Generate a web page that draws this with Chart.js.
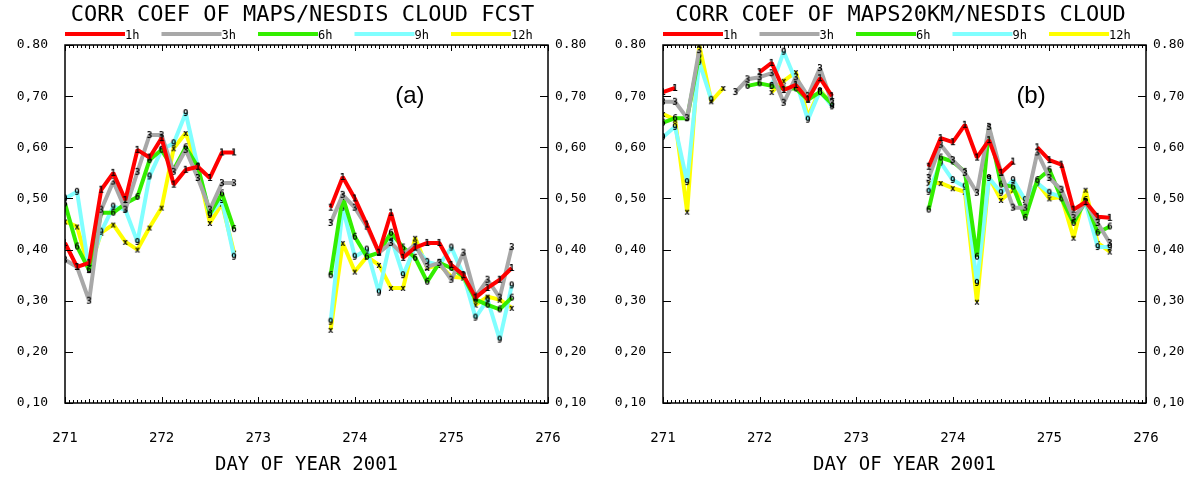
<!DOCTYPE html>
<html>
<head>
<meta charset="utf-8">
<script src="https://cdn.jsdelivr.net/npm/chart.js@4.4.1/dist/chart.umd.min.js"></script>
<style>
  html, body { margin: 0; padding: 0; background: #fff; }
  #wrap { position: relative; width: 1197px; height: 477px; }
  .panel { position: absolute; top: 0; width: 598px; height: 477px; }
</style>
</head>
<body>
<div id="wrap">
  <div class="panel" style="left:0"><canvas id="chartA" width="598" height="477"></canvas></div>
  <div class="panel" style="left:598px"><canvas id="chartB" width="598" height="477"></canvas></div>
</div>
<script>
// series
const seriesNames = ['1h', '3h', '6h', '9h', '12h'];
const seriesColors = ['#ff0000', '#a8a8a8', '#33ee00', '#80ffff', '#ffff00'];
const seriesGlyphs = ['1', '3', '6', '9', 'x'];

// axis labels
const yTickLabels = ['0,10', '0,20', '0,30', '0,40', '0,50', '0,60', '0,70', '0.80'];
const xTickLabels = ['271', '272', '273', '274', '275', '276'];
const titleA = 'CORR COEF OF MAPS/NESDIS CLOUD FCST';
const titleB = 'CORR COEF OF MAPS20KM/NESDIS CLOUD';
const xTitle = 'DAY OF YEAR 2001';

// day of year for each sample (273.25 = no data, breaks the lines)
const days = [271, 271.125, 271.25, 271.375, 271.5, 271.625, 271.75, 271.875,
  272, 272.125, 272.25, 272.375, 272.5, 272.625, 272.75,
  273.25,
  273.75, 273.875, 274, 274.125, 274.25, 274.375, 274.5, 274.625,
  274.75, 274.875, 275, 275.125, 275.25, 275.375, 275.5, 275.625];

// panel (a)
const a1h = [0.413, 0.366, 0.374, 0.517, 0.55, 0.497, 0.595, 0.58, 0.618, 0.527, 0.556, 0.562, 0.54, 0.59, 0.59,
  null,
  0.482, 0.542, 0.50, 0.449, 0.394, 0.472, 0.384, 0.404, 0.413, 0.413, 0.37, 0.35, 0.306, 0.325, 0.341, 0.364];
const a3h = [0.38, 0.366, 0.30, 0.478, 0.533, 0.478, 0.552, 0.624, 0.624, 0.552, 0.595, 0.54, 0.478, 0.53, 0.53,
  null,
  0.452, 0.507, 0.482, 0.445, 0.394, 0.413, 0.39, 0.41, 0.366, 0.374, 0.341, 0.394, 0.308, 0.341, 0.306, 0.405];
const a6h = [0.49, 0.406, 0.36, 0.472, 0.472, 0.49, 0.503, 0.575, 0.595, 0.556, 0.60, 0.562, 0.47, 0.51, 0.44,
  null,
  0.35, 0.503, 0.425, 0.386, 0.394, 0.433, 0.404, 0.384, 0.337, 0.374, 0.364, 0.347, 0.302, 0.292, 0.283, 0.306];
const a9h = [0.50, 0.513, 0.36, 0.435, 0.484, 0.478, 0.415, 0.543, 0.595, 0.608, 0.667, 0.562, 0.468, 0.497, 0.386,
  null,
  0.259, 0.482, 0.386, 0.40, 0.316, 0.423, 0.35, 0.405, 0.376, 0.37, 0.404, 0.35, 0.267, 0.302, 0.224, 0.33];
const a12h = [0.455, 0.445, 0.36, 0.433, 0.449, 0.415, 0.40, 0.443, 0.482, 0.598, 0.628, 0.562, 0.452, 0.49, 0.394,
  null,
  0.243, 0.413, 0.357, 0.386, 0.37, 0.325, 0.325, 0.423, 0.364, 0.37, 0.347, 0.345, 0.292, 0.308, 0.302, 0.286];

// panel (b)
const b1h = [0.708, 0.716, null, null, null, null, null, null, 0.747, 0.765, 0.712, 0.722, 0.693, 0.735, 0.70,
  null,
  0.562, 0.618, 0.61, 0.644, 0.58, 0.614, 0.55, 0.572, null, 0.60, 0.575, 0.566, 0.478, 0.493, 0.464, 0.462];
const b3h = [0.689, 0.689, 0.657, 0.79, null, null, 0.708, 0.733, 0.737, 0.745, 0.687, 0.737, 0.70, 0.755, 0.687,
  null,
  0.54, 0.605, 0.575, 0.55, 0.511, 0.64, 0.55, 0.482, 0.482, 0.59, 0.54, 0.517, 0.462, 0.493, 0.452, 0.413];
const b6h = [0.648, 0.657, 0.657, 0.78, null, null, null, 0.72, 0.725, 0.72, 0.715, 0.715, 0.693, 0.708, 0.685,
  null,
  0.478, 0.58, 0.572, 0.552, 0.386, 0.638, 0.527, 0.523, 0.462, 0.536, 0.556, 0.50, 0.452, 0.497, 0.433, 0.445];
const b9h = [0.62, 0.64, 0.532, 0.767, 0.693, null, null, null, null, 0.72, 0.787, 0.73, 0.654, 0.71, 0.68,
  null,
  0.513, 0.57, 0.536, 0.523, 0.335, 0.54, 0.511, 0.536, 0.497, 0.53, 0.511, 0.503, 0.458, 0.491, 0.405, 0.405];
const b12h = [0.665, 0.654, 0.474, 0.80, 0.69, 0.716, null, null, null, 0.708, 0.73, 0.747, 0.66, 0.712, 0.683,
  null,
  0.53, 0.53, 0.52, 0.513, 0.298, 0.542, 0.497, 0.517, 0.497, 0.53, 0.50, 0.503, 0.423, 0.517, 0.413, 0.396];

const MONO = '"DejaVu Sans Mono", "Liberation Mono", monospace';

// little black number/x drawn on every point
function makeGlyph(ch) {
  const c = document.createElement('canvas');
  c.width = 8; c.height = 10;
  const g = c.getContext('2d');
  g.fillStyle = '#000';
  g.font = 'bold 9px ' + MONO;
  g.textAlign = 'center';
  g.textBaseline = 'middle';
  g.fillText(ch, 4, 5.5);
  return c;
}

// title + legend above the plot box, panel tag inside it
const header = {
  id: 'header',
  afterDraw(chart, args, opts) {
    const { ctx, chartArea: a, scales: { x, y } } = chart;
    ctx.save();
    ctx.fillStyle = '#000';
    ctx.font = '22px ' + MONO;
    ctx.textAlign = 'center';
    ctx.textBaseline = 'middle';
    ctx.fillText(opts.text, a.left + (a.right - a.left) / 2 - 4, 15);

    ctx.font = '24px "Liberation Sans", Arial, sans-serif';
    ctx.fillText(opts.tag, x.getPixelForValue(opts.tagDay), y.getPixelForValue(0.70));

    ctx.font = '12px ' + MONO;
    ctx.textAlign = 'left';
    chart.data.datasets.forEach((ds, i) => {
      const x0 = a.left + i * 96.5;
      ctx.fillStyle = ds.borderColor;
      ctx.fillRect(x0, 32, 60, 4);
      ctx.fillStyle = '#000';
      ctx.fillText(ds.label, x0 + 60, 36);
    });
    ctx.restore();
  }
};

// box with inward ticks on every side
const frame = {
  id: 'frame',
  afterDraw(chart) {
    const { ctx, chartArea: a, scales: { x, y } } = chart;
    ctx.save();
    ctx.strokeStyle = '#000';
    ctx.lineWidth = 1.5;
    ctx.strokeRect(a.left, a.top, a.right - a.left, a.bottom - a.top);
    ctx.lineWidth = 1;
    ctx.beginPath();
    for (let h = 0; h <= 120; h++) {
      const px = Math.round(x.getPixelForValue(271 + h / 24)) + 0.5;
      const len = h % 24 === 0 ? 6 : (h % 6 === 0 ? 4 : 3);
      ctx.moveTo(px, a.bottom); ctx.lineTo(px, a.bottom - len);
      ctx.moveTo(px, a.top); ctx.lineTo(px, a.top + len);
    }
    y.ticks.forEach(t => {
      const py = Math.round(y.getPixelForValue(t.value)) + 0.5;
      ctx.moveTo(a.left, py); ctx.lineTo(a.left + 8, py);
      ctx.moveTo(a.right, py); ctx.lineTo(a.right - 8, py);
    });
    ctx.stroke();
    ctx.restore();
  }
};

function buildChart(id, title, tag, tagDay, series) {
  const datasets = series.map((vals, i) => ({
    label: seriesNames[i],
    data: days.map((d, k) => ({ x: d, y: vals[k] })),
    borderColor: seriesColors[i],
    backgroundColor: seriesColors[i],
    borderWidth: 4,
    borderJoinStyle: 'bevel',
    pointStyle: makeGlyph(seriesGlyphs[i]),
    pointRadius: 4,
    spanGaps: false,
    tension: 0
  }));

  const yTicks = {
    color: '#000',
    font: { family: MONO, size: 13 },
    stepSize: 0.1,
    callback: (v, i) => yTickLabels[i]
  };

  return new Chart(document.getElementById(id), {
    type: 'line',
    data: { datasets },
    plugins: [header, frame],
    options: {
      responsive: false,
      animation: false,
      devicePixelRatio: 1,
      layout: { padding: { top: 45, right: 0, bottom: 0, left: 0 } },
      plugins: {
        legend: { display: false },
        title: { display: false },
        tooltip: { enabled: false },
        header: { text: title, tag: tag, tagDay: tagDay }
      },
      scales: {
        x: {
          type: 'linear',
          min: 271, max: 276,
          grid: { display: false, drawTicks: false },
          border: { display: false },
          ticks: {
            stepSize: 1,
            padding: 27,
            color: '#000',
            font: { family: MONO, size: 14 },
            maxRotation: 0,
            callback: (v, i) => xTickLabels[i]
          },
          title: {
            display: true,
            text: xTitle,
            color: '#000',
            font: { family: MONO, size: 19 },
            padding: { top: 0, bottom: 1 }
          },
          afterFit: s => { s.height = 74; }
        },
        y: {
          position: 'left',
          min: 0.1, max: 0.8,
          grid: { display: false, drawTicks: false },
          border: { display: false },
          ticks: Object.assign({ padding: 17 }, yTicks),
          afterFit: s => { s.width = 65; }
        },
        y2: {
          position: 'right',
          min: 0.1, max: 0.8,
          grid: { display: false, drawTicks: false },
          border: { display: false },
          ticks: Object.assign({ padding: 7 }, yTicks),
          afterFit: s => { s.width = 50; }
        }
      }
    }
  });
}

buildChart('chartA', titleA, '(a)', 274.57, [a1h, a3h, a6h, a9h, a12h]);
buildChart('chartB', titleB, '(b)', 274.81, [b1h, b3h, b6h, b9h, b12h]);
</script>
</body>
</html>
